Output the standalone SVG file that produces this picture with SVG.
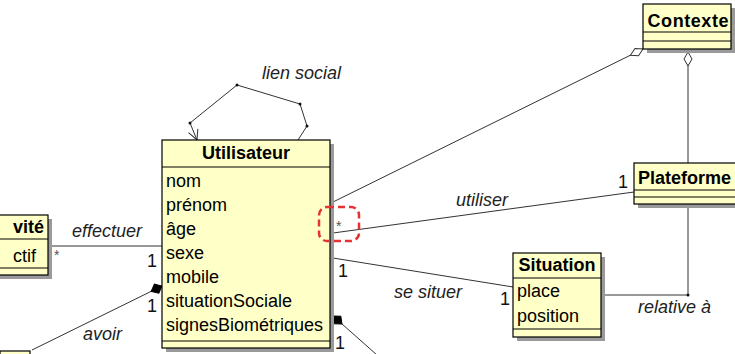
<svg xmlns="http://www.w3.org/2000/svg" width="735" height="354" viewBox="0 0 735 354">
<style>
.bg{fill:#fff}
.box{fill:#ffffc8;stroke:#000;stroke-width:1.2}
.shadow{fill:#9a9a9a}
.sep{stroke:#000;stroke-width:1.2}
.title{font-family:"Liberation Sans",Arial,sans-serif;font-size:18px;font-weight:bold;fill:#000}
.attr{font-family:"Liberation Sans",Arial,sans-serif;font-size:18px;fill:#000}
.lbl{font-family:"Liberation Sans",Arial,sans-serif;font-size:18px;font-style:italic;fill:#222}
.mult{font-family:"Liberation Sans",Arial,sans-serif;font-size:18px;fill:#111}
.star{font-family:"Liberation Sans",Arial,sans-serif;font-size:14px;fill:#555}
.conn{stroke:#333;stroke-width:1;fill:none}
.dot{fill:#111}
.hl{fill:none;stroke:#e53232;stroke-width:2.5;stroke-dasharray:7,4}
</style>
<defs>
<marker id="odia" viewBox="0 0 16 10" refX="15" refY="5" markerWidth="16" markerHeight="10" markerUnits="userSpaceOnUse" orient="auto"><path d="M1,5 L8,1 L15,5 L8,9 Z" fill="#fff" stroke="#333" stroke-width="1"/></marker>
<marker id="fdia" viewBox="0 0 14 12" refX="13" refY="6" markerWidth="14" markerHeight="12" markerUnits="userSpaceOnUse" orient="auto"><path d="M1,6 L7,1 L13,6 L7,11 Z" fill="#000" stroke="#000" stroke-width="1"/></marker>
<marker id="arr" viewBox="0 0 12 12" refX="11" refY="6" markerWidth="12" markerHeight="12" markerUnits="userSpaceOnUse" orient="auto"><path d="M1,1 L11,6 L1,11" fill="none" stroke="#333" stroke-width="1"/></marker>
</defs>
<rect class="bg" x="0" y="0" width="735" height="354"/>

<g id="connectors">
<polyline class="conn" points="298,140 307,126 300,104 237,85 190,123 197,140" marker-end="url(#arr)"/>
<circle class="dot" cx="307" cy="126" r="1.5"/>
<circle class="dot" cx="300" cy="104" r="1.5"/>
<circle class="dot" cx="237" cy="85" r="1.5"/>
<circle class="dot" cx="190" cy="123" r="1.5"/>
<line class="conn" x1="333" y1="202" x2="643" y2="49" marker-end="url(#odia)"/>
<line class="conn" x1="688" y1="163" x2="688" y2="52" marker-end="url(#odia)"/>
<line class="conn" x1="333" y1="233" x2="634" y2="192"/>
<line class="conn" x1="333" y1="258" x2="513" y2="287"/>
<polyline class="conn" points="604,295 688,295 688,208"/>
<circle class="dot" cx="688" cy="295" r="1.5"/>
<line class="conn" x1="52" y1="246" x2="162" y2="246"/>
<line class="conn" x1="32" y1="350" x2="162" y2="286" marker-end="url(#fdia)"/>
<line class="conn" x1="377" y1="355" x2="333" y2="316" marker-end="url(#fdia)"/>
</g>

<g id="utilisateur">
<rect class="shadow" x="166" y="144" width="168" height="208"/>
<rect class="box" x="162" y="140" width="168" height="208"/>
<line class="sep" x1="162" y1="167" x2="330" y2="167"/>
<line class="sep" x1="162" y1="341" x2="330" y2="341"/>
<text class="title" x="246" y="159" text-anchor="middle">Utilisateur</text>
<text class="attr" x="166" y="187">nom</text>
<text class="attr" x="166" y="211">prénom</text>
<text class="attr" x="166" y="235">âge</text>
<text class="attr" x="166" y="259">sexe</text>
<text class="attr" x="166" y="283">mobile</text>
<text class="attr" x="166" y="307">situationSociale</text>
<text class="attr" x="166" y="331">signesBiométriques</text>
</g>

<g id="contexte">
<rect class="shadow" x="647" y="8" width="88" height="45"/>
<rect class="box" x="643" y="4" width="88" height="45"/>
<line class="sep" x1="643" y1="32" x2="731" y2="32"/>
<line class="sep" x1="643" y1="41" x2="731" y2="41"/>
<text class="title" x="688" y="27" text-anchor="middle" textLength="81">Contexte</text>
</g>

<g id="plateforme">
<rect class="shadow" x="638" y="167" width="120" height="41"/>
<rect class="box" x="634" y="163" width="120" height="41"/>
<line class="sep" x1="634" y1="190" x2="754" y2="190"/>
<line class="sep" x1="634" y1="197" x2="754" y2="197"/>
<text class="title" x="638" y="184">Plateforme</text>
</g>

<g id="situation">
<rect class="shadow" x="517" y="257" width="88" height="84"/>
<rect class="box" x="513" y="253" width="88" height="84"/>
<line class="sep" x1="513" y1="278" x2="601" y2="278"/>
<line class="sep" x1="513" y1="329" x2="601" y2="329"/>
<text class="title" x="557" y="271" text-anchor="middle">Situation</text>
<text class="attr" x="517" y="297">place</text>
<text class="attr" x="517" y="322">position</text>
</g>

<g id="activite">
<rect class="shadow" x="-16" y="219" width="68" height="60"/>
<rect class="box" x="-20" y="215" width="68" height="60"/>
<line class="sep" x1="-20" y1="239" x2="48" y2="239"/>
<line class="sep" x1="-20" y1="268" x2="48" y2="268"/>
<text class="title" x="13" y="233">vité</text>
<text class="attr" x="13" y="262">ctif</text>
</g>

<g id="boxbottomleft">
<rect class="shadow" x="4" y="355" width="30" height="20"/>
<rect class="box" x="0" y="351" width="30" height="20"/>
</g>

<g id="labels">
<text class="lbl" x="262" y="79">lien social</text>
<text class="lbl" x="72" y="237">effectuer</text>
<text class="star" x="54" y="260">*</text>
<text class="mult" x="147" y="267">1</text>
<text class="mult" x="147" y="312">1</text>
<text class="lbl" x="83" y="340">avoir</text>
<text class="lbl" x="456" y="206">utiliser</text>
<text class="star" x="336" y="231">*</text>
<text class="mult" x="338" y="277">1</text>
<text class="lbl" x="394" y="298">se situer</text>
<text class="mult" x="500" y="305">1</text>
<text class="mult" x="618" y="188">1</text>
<text class="lbl" x="638" y="313">relative à</text>
<text class="mult" x="335" y="349">1</text>
</g>

<rect class="hl" x="319" y="207" width="40" height="34" rx="8"/>
</svg>
